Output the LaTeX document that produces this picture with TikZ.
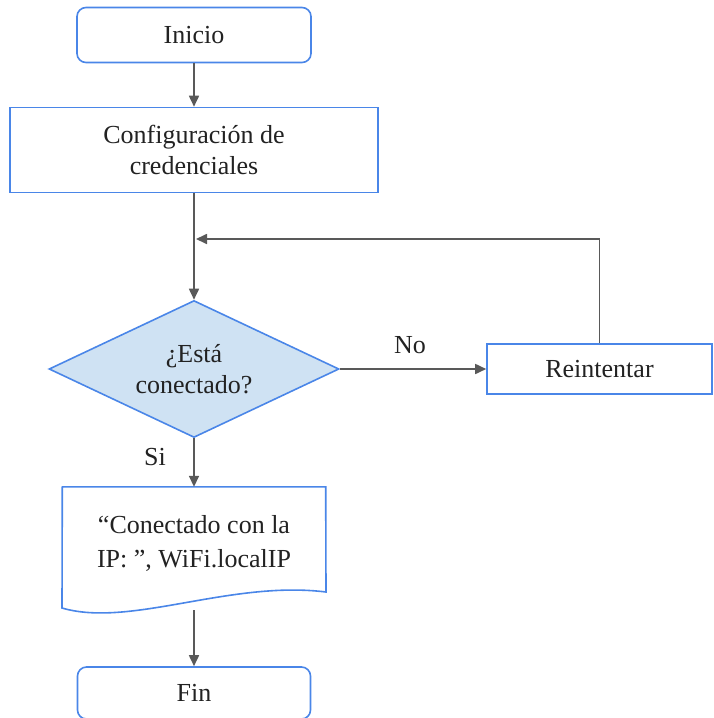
\documentclass[tikz,border=0pt]{standalone}
\usepackage{fontspec}
\setmainfont{Liberation Serif}
\usetikzlibrary{shapes.geometric,arrows.meta}
\definecolor{bord}{HTML}{4A86E8}
\definecolor{dfill}{HTML}{CFE2F3}
\definecolor{conn}{HTML}{595959}
\definecolor{txt}{HTML}{222222}
\tikzset{
  box/.style={draw=bord,line width=1.6pt,fill=white,inner sep=0pt,align=center,text=txt,
    font=\fontsize{26}{31}\selectfont},
  term/.style={box,rounded corners=9pt},
  decis/.style={box,diamond,fill=dfill},
  arr/.style={draw=conn,line width=1.7pt,-{Triangle[length=11pt,width=10pt]}},
  lbl/.style={text=txt,font=\fontsize{26}{31}\selectfont,inner sep=0pt}
}
\begin{document}
\begin{tikzpicture}[x=1pt,y=-1pt]
\useasboundingbox (0,0) rectangle (714,718);
\node[term,minimum width=234pt,minimum height=55pt] (start) at (194,35) {Inicio};
\node[box,minimum width=368pt,minimum height=85pt] (conf) at (194,150) {Configuración de\\credenciales};
\node[decis,minimum width=290pt,minimum height=137pt,aspect=2.12] (dec) at (194,369) {¿Está\\conectado?};
\node[box,minimum width=225pt,minimum height=50pt] (retry) at (599.5,369) {Reintentar};
\node[inner sep=0pt,minimum width=263pt,minimum height=124pt,text=txt] (doc) at (194,549) {};
\node[inner sep=0pt,align=center,text=txt,font=\fontsize{26}{34}\selectfont] (doctext) at (194,543)
  {“Conectado con la\\IP: ”, WiFi.localIP};
\draw[draw=bord,line width=1.6pt] (doc.north west) -- (doc.north east) -- (326,592)
  .. controls (230,580) and (130,628) .. (62,608) -- cycle;
\node[term,minimum width=233pt,minimum height=52pt] (fin) at (194,693) {Fin};
\coordinate (join) at (196,239);
\coordinate (docout) at (194,610);
\draw[arr] (start.south) -- (conf.north);
\draw[arr] (conf.south) -- (dec.north);
\draw[arr] (retry.north) |- (join);
\draw[arr] (dec.east) -- (retry.west);
\draw[arr] (dec.south) -- (doc.north);
\draw[arr] (docout) -- (fin.north);
\node[lbl] (no) at (410,345) {No};
\node[lbl] (si) at (155,457) {Si};
\end{tikzpicture}
\end{document}
